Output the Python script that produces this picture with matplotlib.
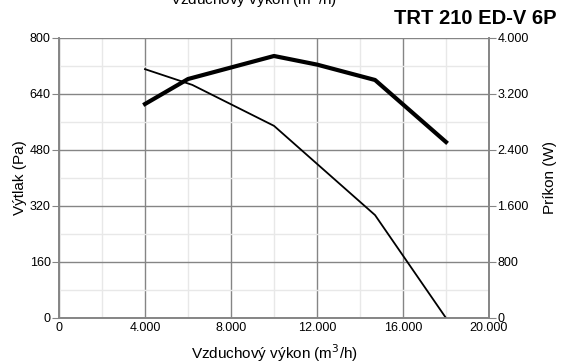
import matplotlib
matplotlib.use('Agg')
import matplotlib.pyplot as plt
from matplotlib.ticker import MultipleLocator, FuncFormatter

plt.rcParams['font.family'] = ['Liberation Sans', 'DejaVu Sans']

# airflow (m3/h)
flow_p = [4000, 6200, 10000, 14700, 18000]
pressure = [711, 666, 549, 294, 0]          # Pa, left axis

flow_w = [4000, 6000, 10000, 12000, 14700, 18000]
power = [3057, 3414, 3743, 3620, 3400, 2514]  # W, right axis

title = "TRT 210 ED-V 6P"
xlabel = "Vzduchový výkon (m$^3$/h)"


def dot_thousands(v, pos):
    return f"{int(round(v)):,}".replace(",", ".")


fig = plt.figure(figsize=(5.65, 3.63), dpi=100)
ax = fig.add_axes([59 / 565, 45 / 363, 430 / 565, 280 / 363])
ax2 = ax.twinx()

ax.plot(flow_p, pressure, color='black', lw=1.3, zorder=3)
ax2.plot(flow_w, power, color='black', lw=3.0, zorder=3,
         solid_joinstyle='round')

ax.set_xlim(0, 20000)
ax.set_ylim(0, 800)
ax2.set_ylim(0, 4000)

ax.xaxis.set_major_locator(MultipleLocator(4000))
ax.xaxis.set_minor_locator(MultipleLocator(2000))
ax.yaxis.set_major_locator(MultipleLocator(160))
ax.yaxis.set_minor_locator(MultipleLocator(80))
ax2.yaxis.set_major_locator(MultipleLocator(800))
ax.xaxis.set_major_formatter(FuncFormatter(dot_thousands))
ax2.yaxis.set_major_formatter(FuncFormatter(dot_thousands))

ax.grid(which='major', color='#858585', lw=1.0)
ax.grid(which='minor', color='#e8e8e8', lw=1.0)
ax.set_axisbelow(True)

for a in (ax, ax2):
    for s in a.spines.values():
        s.set_color('#858585')
        s.set_linewidth(1.2)
    a.tick_params(which='major', length=5, color='#858585', labelsize=9, pad=1)
    a.tick_params(which='minor', length=0)
ax.spines['top'].set_visible(False)
ax2.spines['top'].set_visible(False)
ax.tick_params(axis='x', length=0, pad=3)

ax.set_ylabel("Výtlak (Pa)", fontsize=11, labelpad=2)
ax2.set_ylabel("Príkon (W)", fontsize=11, labelpad=10)
ax.set_xlabel(xlabel, fontsize=11, labelpad=6)

fig.text(557 / 565, 1 - 18 / 363, title, ha='right', va='center',
         fontsize=14.5, fontweight='bold')
fig.text(253 / 565, 1 - 5 / 363, xlabel, ha='center', va='baseline',
         fontsize=11)

plt.savefig("out.png", dpi=100)
